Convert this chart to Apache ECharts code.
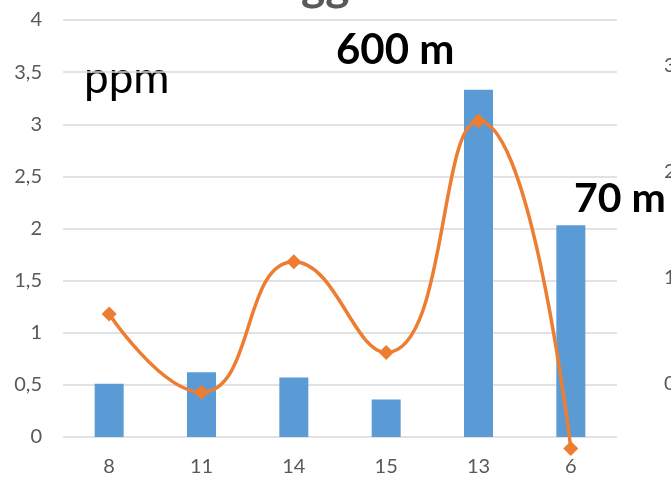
<!DOCTYPE html>
<html><head><meta charset="utf-8">
<script src="https://cdn.jsdelivr.net/npm/echarts@6/dist/echarts.min.js"></script>
<style>html,body{margin:0;padding:0;background:#fff}#c{width:671px;height:482px}</style>
</head><body><div id="c"></div>
<script>
const categories = ['8', '11', '14', '15', '13', '6'];
const barValues = [0.51, 0.62, 0.57, 0.36, 3.33, 2.03];
const lineValues = [1.18, 0.43, 1.68, 0.81, 3.03, -0.11];
const leftTicks = [0, 0.5, 1, 1.5, 2, 2.5, 3, 3.5, 4];
const rightTicks = [0, 1, 2, 3];

const chart = echarts.init(document.getElementById('c'));
const font = 'Lato, "Liberation Sans", sans-serif';
chart.setOption({
  animation: false,
  grid: { left: 63, right: 54, top: 20, bottom: 45, outerBoundsMode: 'none', containLabel: false },
  xAxis: {
    type: 'category', data: categories,
    axisLine: { show: false }, axisTick: { show: false },
    axisLabel: { color: '#595959', fontSize: 20, fontFamily: font, margin: 20 }
  },
  yAxis: [{
    type: 'value', min: leftTicks[0], max: leftTicks[leftTicks.length - 1], interval: 0.5,
    axisLine: { show: false }, axisTick: { show: false },
    splitLine: { lineStyle: { color: '#d9d9d9', width: 1.5 } },
    axisLabel: { color: '#595959', fontSize: 20, fontFamily: font, margin: 21,
      formatter: v => String(v).replace('.', ',') }
  }, {
    type: 'value', min: -0.5, max: 3.43, interval: 0.5, position: 'right',
    axisLine: { show: false }, axisTick: { show: false }, splitLine: { show: false },
    axisLabel: { color: '#595959', fontSize: 20, fontFamily: font, margin: 47,
      formatter: v => rightTicks.includes(v) ? String(v) : '' }
  }],
  series: [{
    type: 'bar', data: barValues, barWidth: 29,
    itemStyle: { color: '#5B9BD5' }
  }, {
    type: 'line', data: lineValues, smooth: 0.5, clip: false,
    symbol: 'diamond', symbolSize: 15,
    lineStyle: { color: '#ED7D31', width: 3.5 },
    itemStyle: { color: '#ED7D31' }, z: 5
  }],
  graphic: [
    { type: 'text', left: 84, top: 57, style: { text: 'ppm', fontSize: 44, fontFamily: font, fill: '#000' } },
    { type: 'text', left: 336, top: 29, style: { text: '600 m', fontSize: 42, fontWeight: 'bold', fontFamily: font, fill: '#000' } },
    { type: 'text', left: 574, top: 178, style: { text: '70 m', fontSize: 41, fontWeight: 'bold', fontFamily: font, fill: '#000' } },
    { type: 'text', x: 301, y: -38, style: { text: 'gg', fontSize: 46, fontWeight: 'bold', fontFamily: font, fill: '#595959' } }
  ]
});
</script></body></html>
